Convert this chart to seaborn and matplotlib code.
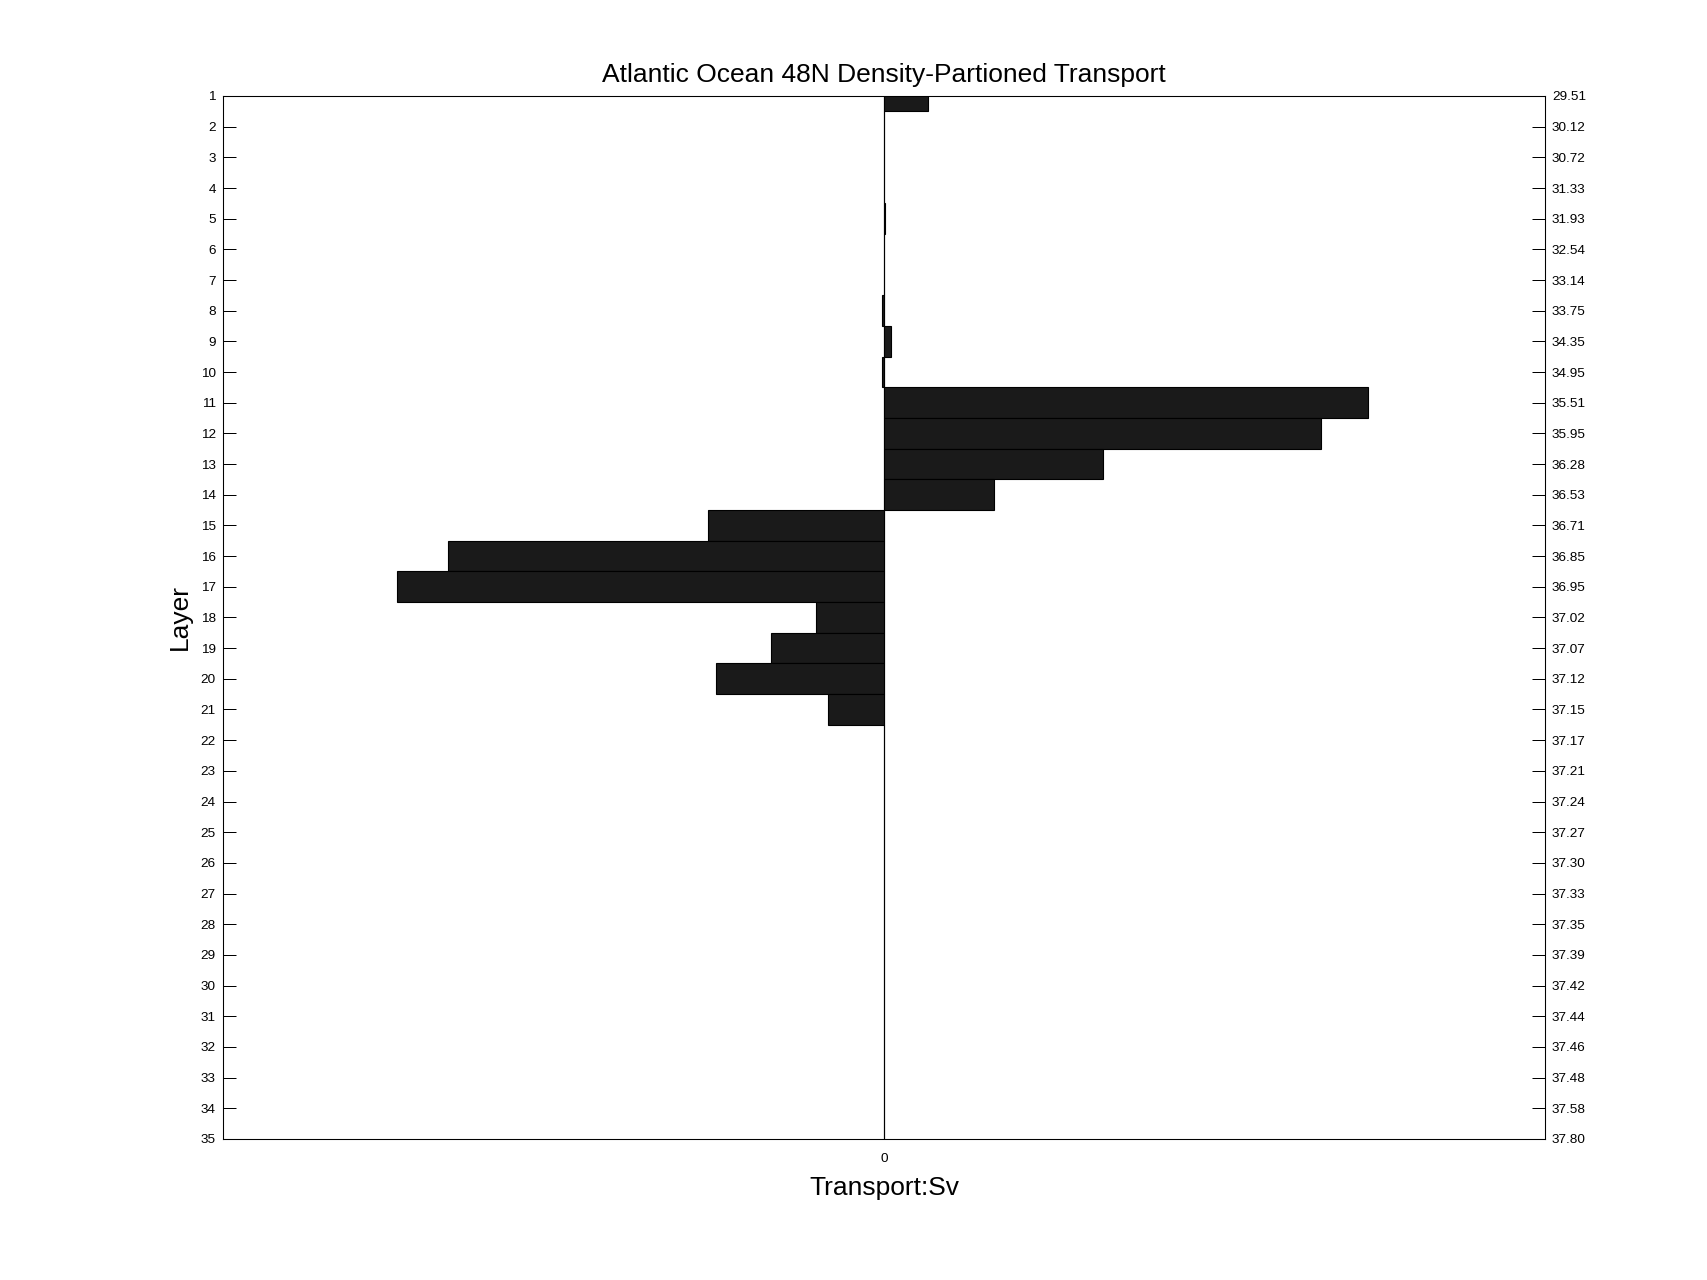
import matplotlib
matplotlib.use("Agg")
import matplotlib.pyplot as plt
import seaborn as sns
import pandas as pd

layers = list(range(1, 36))
transport = [0.91, 0, 0, 0, 0.03, 0, 0, -0.03, 0.14, -0.04,
             9.93, 8.98, 4.49, 2.27, -3.61, -8.95, -10.0, -1.40, -2.32, -3.45,
             -1.15, 0, 0, 0, 0, 0, 0, 0, 0, 0,
             0, 0, 0, 0, 0]
density_labels = ["29.51", "30.12", "30.72", "31.33", "31.93", "32.54", "33.14",
                  "33.75", "34.35", "34.95", "35.51", "35.95", "36.28", "36.53",
                  "36.71", "36.85", "36.95", "37.02", "37.07", "37.12", "37.15",
                  "37.17", "37.21", "37.24", "37.27", "37.30", "37.33", "37.35",
                  "37.39", "37.42", "37.44", "37.46", "37.48", "37.58", "37.80"]

sns.set_theme(style="white")
plt.rcParams['font.family'] = ['Liberation Sans', 'DejaVu Sans']

df = pd.DataFrame({"Layer": [str(l) for l in layers], "Transport": transport})

fig = plt.figure(figsize=(17.07, 12.8), dpi=100)
ax = fig.add_axes([0.1305, 0.1102, 0.7746, 0.8148])

sns.barplot(data=df, x="Transport", y="Layer", orient="h", order=df["Layer"],
            color="#1a1a1a", saturation=1, edgecolor="black", linewidth=0.8,
            width=1.0, errorbar=None, ax=ax, zorder=3)

lim = 13.57
ax.set_xlim(-lim, lim)
ax.set_ylim(34, 0)
ax.axvline(0, color="black", linewidth=0.8, zorder=2)

ax.set_xticks([0])
ax.set_xticklabels(["0"])
tick_len = 13 * 72 / 100
ax.tick_params(axis="both", direction="in", length=tick_len, width=0.72,
               labelsize=9.7, colors="black", pad=5)
ax.tick_params(axis="x", pad=10)
ax.tick_params(axis="y", left=True, right=False)

for s in ax.spines.values():
    s.set_visible(True)
    s.set_color("black")
    s.set_linewidth(0.75)

ax2 = ax.twinx()
ax2.set_ylim(ax.get_ylim())
ax2.set_yticks(range(len(density_labels)))
ax2.set_yticklabels(density_labels)
ax2.tick_params(axis="y", direction="in", length=tick_len, width=0.72,
                labelsize=9.7, colors="black", pad=5, right=True, left=False)
ax2.grid(False)
for s in ax2.spines.values():
    s.set_visible(True)
    s.set_color("black")
    s.set_linewidth(0.75)

ax.set_title("Atlantic Ocean 48N Density-Partioned Transport", fontsize=19,
             color="black", pad=10)
ax.set_xlabel("Transport:Sv", fontsize=19, color="black", labelpad=8)
ax.set_ylabel("Layer", fontsize=19, color="black", labelpad=6)

fig.savefig("out.png", dpi=100, facecolor="white")
